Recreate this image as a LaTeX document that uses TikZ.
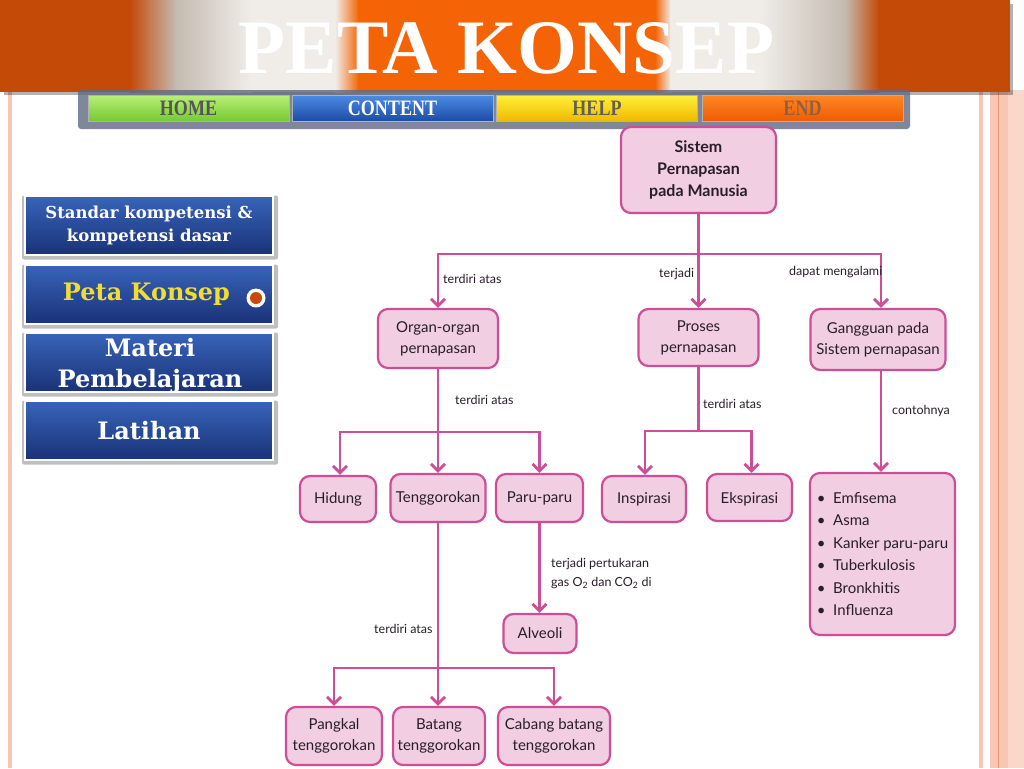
\documentclass[tikz,border=0pt]{standalone}
\usepackage{fontspec}
\setmainfont{Lato}
\newfontfamily\titlefont{Liberation Serif}
\newfontfamily\menufont{DejaVu Serif}
\usetikzlibrary{arrows.meta}
\definecolor{pinkfill}{RGB}{242,206,226}
\definecolor{pinkline}{RGB}{205,78,150}
\definecolor{maptext}{RGB}{40,30,40}
\definecolor{darkorange}{RGB}{196,74,8}
\definecolor{brightorange}{RGB}{244,100,6}
\definecolor{grayone}{RGB}{196,186,176}
\definecolor{whitetwo}{RGB}{240,237,233}
\definecolor{salmon}{RGB}{250,198,180}
\definecolor{salmondark}{RGB}{232,150,120}
\definecolor{navy}{RGB}{26,50,120}
\definecolor{menublue}{RGB}{55,100,185}
\definecolor{menuyellow}{RGB}{240,220,50}
\definecolor{dotorange}{RGB}{205,70,10}
\definecolor{navshadow}{RGB}{95,105,130}
\definecolor{greentop}{RGB}{185,240,120}
\definecolor{greenbot}{RGB}{120,200,50}
\definecolor{bluetop}{RGB}{75,140,230}
\definecolor{bluebot}{RGB}{30,75,165}
\definecolor{yellowtop}{RGB}{255,240,60}
\definecolor{yellowbot}{RGB}{240,185,0}
\definecolor{orangetop}{RGB}{255,135,35}
\definecolor{orangebot}{RGB}{238,92,5}
\definecolor{hometext}{RGB}{85,85,85}
\definecolor{helptext}{RGB}{100,95,80}
\definecolor{endtext}{RGB}{150,95,60}
\tikzset{
  concept/.style={draw=pinkline, fill=pinkfill, line width=2.2pt, rounded corners=10pt,
    align=center, inner sep=0pt, text=maptext, font=\fontsize{15}{21}\selectfont},
  conn/.style={draw=pinkline, line width=2.8pt},
  arr/.style={conn, -{Straight Barb[length=7pt,width=14pt]}},
  lbl/.style={anchor=west, inner sep=0pt, text=maptext, font=\fontsize{12.5}{19}\selectfont},
  navbtn/.style={draw=white!70!black, line width=0.8pt, minimum width=201pt, minimum height=26pt,
    inner sep=0pt, font=\titlefont\bfseries\fontsize{22}{22}\selectfont},
  menubox/.style={draw=white, line width=2.5pt, top color=menublue, bottom color=navy,
    minimum width=248pt, minimum height=59pt, inner sep=0pt, align=center, text=white,
    font=\menufont\bfseries\fontsize{24}{31}\selectfont},
  menutext/.style={inner sep=0pt, align=center, text=white,
    font=\menufont\bfseries\fontsize{24}{31}\selectfont},
  menushadow/.style={fill=black, opacity=0.25, rounded corners=2pt}
}
\begin{document}
\begin{tikzpicture}[x=1pt,y=-1pt]
\useasboundingbox (0,0) rectangle (1024,768);
\fill[white] (0,0) rectangle (1024,768);
% side stripes
\fill[salmon] (8,90) rectangle (12,768);
\fill[salmon] (979,90) rectangle (983,768);
\fill[salmon] (990,90) rectangle (1024,768);
\fill[salmon!70!white] (1008,90) rectangle (1024,768);
\fill[salmondark] (997.5,90) rectangle (999,768);
% header
\fill[black, opacity=0.3] (4,4) rectangle (1013,95);
\fill[darkorange] (0,0) rectangle (131,92);
\shade[left color=darkorange, right color=grayone] (130,0) rectangle (176,92);
\shade[left color=grayone, right color=whitetwo] (175,0) rectangle (251,92);
\fill[whitetwo] (250,0) rectangle (336,92);
\shade[left color=whitetwo, right color=brightorange] (335,0) rectangle (359,92);
\fill[brightorange] (358,0) rectangle (656,92);
\shade[left color=brightorange, right color=whitetwo] (655,0) rectangle (671,92);
\fill[whitetwo] (670,0) rectangle (761,92);
\shade[left color=whitetwo, right color=grayone] (760,0) rectangle (846,92);
\shade[left color=grayone, right color=darkorange] (845,0) rectangle (879,92);
\fill[darkorange] (878,0) rectangle (1010,92);
\node[anchor=base, text=white, font=\titlefont\bfseries\fontsize{77}{77}\selectfont] (title) at (506.5,73) {PETA KONSEP};
% nav bar
\fill[navshadow, opacity=0.8, rounded corners=3pt] (78,90) rectangle (910,129);
\node[navbtn, top color=greentop, bottom color=greenbot, text=hometext] (home) at (188.5,108) {\scalebox{0.82}[1]{HOME}};
\node[navbtn, top color=bluetop, bottom color=bluebot, text=white] (content) at (392.5,108) {\scalebox{0.82}[1]{CONTENT}};
\node[navbtn, top color=yellowtop, bottom color=yellowbot, text=helptext] (help) at (597,108) {\scalebox{0.82}[1]{HELP}};
\node[navbtn, top color=orangetop, bottom color=orangebot, text=endtext] (end) at (802.5,108) {\scalebox{0.82}[1]{END}};
% left menu
\foreach \cy in {225.5,294.5,362.5,430.5}{
  \fill[menushadow] (22,\cy-30) rectangle (278,\cy+34);
}
\node[menubox, font=\menufont\bfseries\fontsize{16.5}{23}\selectfont] (m1) at (149,225.5) {Standar kompetensi \&\\kompetensi dasar};
\node[menubox, text=menuyellow] (m2) at (149,294.5) {\hspace*{-5pt}Peta Konsep};
\node[menubox] (m3) at (149,362.5) {};
\node[menutext] (m3t) at (150,366) {Materi\\Pembelajaran};
\node[menubox] (m4) at (149,430.5) {Latihan};
\node[circle, fill=white, minimum size=19pt, inner sep=0pt] (dot) at (256,298) {};
\node[circle, fill=dotorange, minimum size=12pt, inner sep=0pt] (dotin) at (dot) {};
% concept nodes
\node[concept, minimum width=155pt, minimum height=86pt, font=\bfseries\fontsize{16}{22}\selectfont] (sistem) at (698.5,170) {Sistem\\Pernapasan\\pada Manusia};
\node[concept, minimum width=120pt, minimum height=59pt] (organ) at (438,338.5) {Organ-organ\\pernapasan};
\node[concept, minimum width=120pt, minimum height=57pt] (proses) at (698.5,337.5) {Proses\\pernapasan};
\node[concept, minimum width=135pt, minimum height=61pt] (gangguan) at (878,339.5) {Gangguan pada\\Sistem pernapasan};
\node[concept, minimum width=76pt, minimum height=46pt] (hidung) at (338,499) {Hidung};
\node[concept, minimum width=95pt, minimum height=48pt] (teng) at (438,498) {Tenggorokan};
\node[concept, minimum width=87pt, minimum height=48pt] (paru) at (539.5,498) {Paru-paru};
\node[concept, minimum width=84pt, minimum height=46pt] (insp) at (644,499) {Inspirasi};
\node[concept, minimum width=85pt, minimum height=47pt, text depth=0pt] (eksp) at (749.5,497.5) {Ekspirasi};
\node[concept, minimum width=145pt, minimum height=162pt, align=left, font=\fontsize{15}{22.5}\selectfont] (list) at (882.5,554) {\textbullet\ \ Emfisema\\\textbullet\ \ Asma\\\textbullet\ \ Kanker paru-paru\\\textbullet\ \ Tuberkulosis\\\textbullet\ \ Bronkhitis\\\textbullet\ \ Influenza};
\node[concept, minimum width=73pt, minimum height=39pt] (alveoli) at (540,633.5) {Alveoli};
\node[concept, minimum width=96pt, minimum height=58pt] (pangkal) at (334,736) {Pangkal\\tenggorokan};
\node[concept, minimum width=92pt, minimum height=58pt] (batang) at (439,736) {Batang\\tenggorokan};
\node[concept, minimum width=112pt, minimum height=58pt] (cabang) at (554,736) {Cabang batang\\tenggorokan};
% connectors
\coordinate (j1) at (698.5,254);
\draw[conn] (sistem.south) -- (j1);
\draw[arr] (j1) -| (organ.north);
\draw[arr] (j1) -- (proses.north);
\draw[arr] (j1) -| ([xshift=3pt]gangguan.north);
\coordinate (j2) at (438,432);
\draw[conn] (organ.south) -- (j2);
\draw[arr] (j2) -| ([xshift=2pt]hidung.north);
\draw[arr] (j2) -- (teng.north);
\draw[arr] (j2) -| (paru.north);
\coordinate (j3) at (698.5,431);
\draw[conn] (proses.south) -- (j3);
\draw[arr] (j3) -| ([xshift=1pt]insp.north);
\draw[arr] (j3) -| ([xshift=2pt]eksp.north);
\draw[arr] ([xshift=3pt]gangguan.south) -- ([xshift=-1.5pt]list.north);
\draw[arr] (paru.south) -- (alveoli.north -| paru.south);
\coordinate (j4) at (438,668);
\draw[conn] (teng.south) -- (j4);
\draw[arr] (j4) -| (pangkal.north);
\draw[arr] (j4) -- (batang.north -| j4);
\draw[arr] (j4) -| (cabang.north);
% labels
\node[lbl] (l1) at (443,279) {terdiri atas};
\node[lbl] (l2) at (659,274) {terjadi};
\node[lbl] (l3) at (789,272) {dapat mengalami};
\node[lbl] (l4) at (455,400) {terdiri atas};
\node[lbl] (l5) at (703,404) {terdiri atas};
\node[lbl] (l6) at (892,411) {contohnya};
\node[lbl] (l7) at (374,629) {terdiri atas};
\node[lbl, align=left] (l8) at (551,573.5) {terjadi pertukaran\\gas O\textsubscript{2} dan CO\textsubscript{2} di};
\end{tikzpicture}
\end{document}
